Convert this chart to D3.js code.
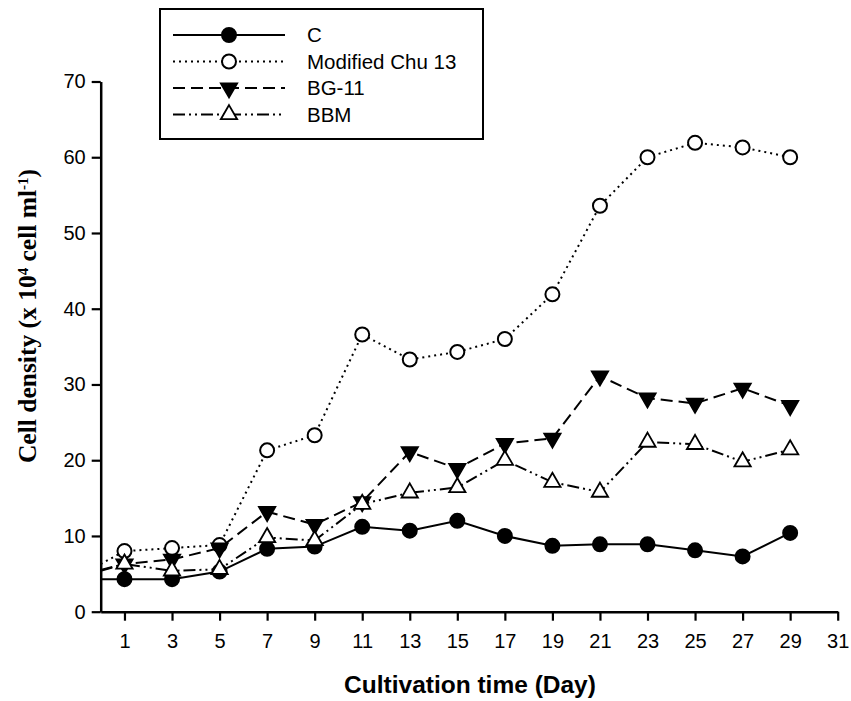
<!DOCTYPE html>
<html lang="en">
<head>
<meta charset="UTF-8">
<title>Cell density over cultivation time</title>
<script src="https://d3js.org/d3.v7.min.js"></script>
<style>
    body { margin: 0; padding: 0; background: #fff; }
    svg { display: block; }
    .tick-label { font-family: "Liberation Sans", Arial, sans-serif; font-size: 20px; fill: #000; }
    .legend-text { font-family: "Liberation Sans", Arial, sans-serif; font-size: 20.5px; fill: #000; }
    .x-title { font-family: "Liberation Sans", Arial, sans-serif; font-size: 24.5px; font-weight: bold; }
    .y-title { font-family: "Liberation Serif", "Times New Roman", serif; font-size: 25.5px; font-weight: bold; }
</style>
</head>
<body>
<svg id="chart" width="851" height="701"></svg>
<script>
// data (day 0 = start of each line, drawn without marker)
const days = [0, 1, 3, 5, 7, 9, 11, 13, 15, 17, 19, 21, 23, 25, 27, 29];
const cValues   = [4.3, 4.3, 4.3, 5.3, 8.3, 8.6, 11.2, 10.7, 12.0, 10.0, 8.7, 8.9, 8.9, 8.1, 7.3, 10.4];
const chuValues = [6.3, 8.0, 8.4, 8.8, 21.3, 23.3, 36.6, 33.3, 34.3, 36.0, 41.9, 53.6, 60.0, 61.9, 61.3, 60.0];
const bg11Values = [5.4, 6.3, 6.9, 8.4, 13.2, 11.5, 14.5, 21.1, 18.9, 22.2, 22.9, 31.1, 28.2, 27.5, 29.5, 27.2];
const bbmValues = [5.5, 6.3, 5.4, 5.6, 9.8, 9.4, 14.2, 15.7, 16.4, 20.0, 17.1, 15.8, 22.4, 22.1, 19.8, 21.4];
const seriesNames = ['C', 'Modified Chu 13', 'BG-11', 'BBM'];
const xTicks = [1, 3, 5, 7, 9, 11, 13, 15, 17, 19, 21, 23, 25, 27, 29, 31];
const yTicks = [0, 10, 20, 30, 40, 50, 60, 70];

const series = [
    { name: seriesNames[0], values: cValues,    dash: null,           marker: 'circle',  fill: '#000' },
    { name: seriesNames[1], values: chuValues,  dash: '2,4',          marker: 'circle',  fill: '#fff' },
    { name: seriesNames[2], values: bg11Values, dash: '12,6',         marker: 'triDown', fill: '#000' },
    { name: seriesNames[3], values: bbmValues,  dash: '12,4,2,4,2,4', marker: 'triUp',   fill: '#fff' }
];

const svg = d3.select('#chart');
const x = d3.scaleLinear().domain([0, 31]).range([100.7, 837.7]);
const y = d3.scaleLinear().domain([0, 70]).range([611.7, 81.5]);

// axes
const xAxis = svg.append('g')
    .attr('transform', `translate(0,${y(0)})`)
    .call(d3.axisBottom(x).tickValues(xTicks).tickSize(9).tickSizeOuter(0).tickPadding(10));
const yAxis = svg.append('g')
    .attr('transform', `translate(${x(0)},0)`)
    .call(d3.axisLeft(y).tickValues(yTicks).tickSize(9).tickSizeOuter(0).tickPadding(6));
[xAxis, yAxis].forEach(a => {
    a.attr('font-size', null).attr('font-family', null);
    a.select('.domain').attr('stroke', '#000').attr('stroke-width', 2.5);
    a.selectAll('.tick line').attr('stroke', '#000').attr('stroke-width', 2.2);
    a.selectAll('.tick text').attr('class', 'tick-label');
});
xAxis.selectAll('.tick text').attr('dy', '0.85em');

function drawMarker(g, type, fill, cx, cy) {
    if (type === 'circle') {
        g.append('circle').attr('cx', cx).attr('cy', cy).attr('r', 7)
            .attr('fill', fill).attr('stroke', '#000').attr('stroke-width', 2);
    } else {
        const sym = d3.symbol().type(d3.symbolTriangle).size(115);
        const rot = type === 'triDown' ? 180 : 0;
        g.append('path').attr('d', sym())
            .attr('transform', `translate(${cx},${cy}) rotate(${rot})`)
            .attr('fill', fill).attr('stroke', '#000').attr('stroke-width', 1.8);
    }
}

const line = d3.line().x(d => x(d.day)).y(d => y(d.v));
const plot = svg.append('g');
series.forEach(s => {
    const pts = days.map((d, i) => ({ day: d, v: s.values[i] }));
    plot.append('path').datum(pts)
        .attr('d', line)
        .attr('fill', 'none')
        .attr('stroke', '#000')
        .attr('stroke-width', 2)
        .attr('stroke-dasharray', s.dash);
});
series.forEach(s => {
    const g = plot.append('g');
    days.forEach((d, i) => {
        if (d > 0) drawMarker(g, s.marker, s.fill, x(d), y(s.values[i]));
    });
});

// legend
const legend = svg.append('g');
legend.append('rect').attr('x', 160).attr('y', 9).attr('width', 323).attr('height', 130)
    .attr('fill', '#fff').attr('stroke', '#000').attr('stroke-width', 2);
series.forEach((s, i) => {
    const ly = 35 + i * 26.5;
    legend.append('line').attr('x1', 173).attr('x2', 285).attr('y1', ly).attr('y2', ly)
        .attr('stroke', '#000').attr('stroke-width', 2).attr('stroke-dasharray', s.dash);
    drawMarker(legend, s.marker, s.fill, 229, ly);
    legend.append('text').attr('class', 'legend-text').attr('x', 307).attr('y', ly)
        .attr('dy', '0.35em').text(s.name);
});

// axis titles
svg.append('text').attr('class', 'x-title').attr('x', 470).attr('y', 693)
    .attr('text-anchor', 'middle').text('Cultivation time (Day)');

const yt = svg.append('text').attr('class', 'y-title')
    .attr('transform', 'translate(36,316) rotate(-90)')
    .attr('text-anchor', 'middle');
yt.append('tspan').text('Cell density (x 10');
yt.append('tspan').attr('baseline-shift', 'super').attr('font-size', '15px').text('4');
yt.append('tspan').text(' cell ml');
yt.append('tspan').attr('baseline-shift', 'super').attr('font-size', '15px').text('-1');
yt.append('tspan').text(')');
</script>
</body>
</html>
